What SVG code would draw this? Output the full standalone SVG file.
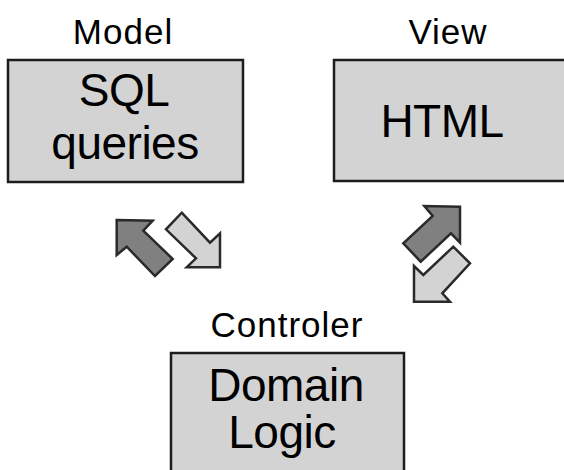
<svg xmlns="http://www.w3.org/2000/svg" width="564" height="470" viewBox="0 0 564 470">
  <style>
    .label { font-family: "Liberation Sans", Arial, sans-serif; font-size: 35px; letter-spacing: 1px; fill: #000; text-anchor: middle; }
    .big { font-family: "Liberation Sans", Arial, sans-serif; font-size: 46px; letter-spacing: -0.5px; fill: #000; text-anchor: middle; }
    .box { fill: #d3d3d3; stroke: #1c1c1c; stroke-width: 2.5; }
    .dark { fill: #808080; stroke: #2a2a2a; stroke-width: 2.5; stroke-linejoin: miter; }
    .light { fill: #d3d3d3; stroke: #2a2a2a; stroke-width: 2.5; stroke-linejoin: miter; }
  </style>
  <rect width="564" height="470" fill="#ffffff"/>

  <g id="model">
    <text class="label" x="123" y="44">Model</text>
    <rect class="box" x="8" y="60" width="235" height="122"/>
    <text class="big" x="124" y="106">SQL</text>
    <text class="big" x="125" y="159">queries</text>
  </g>

  <g id="view">
    <text class="label" x="448" y="44">View</text>
    <rect class="box" x="334" y="60" width="232" height="121"/>
    <text class="big" x="442" y="137">HTML</text>
  </g>

  <g id="controler">
    <text class="label" x="287" y="337">Controler</text>
    <rect class="box" x="171" y="353" width="233" height="130"/>
    <text class="big" x="286" y="401">Domain</text>
    <text class="big" x="282" y="448">Logic</text>
  </g>

  <g id="connectors">
    <!-- controller to model -->
    <polygon class="dark" points="116.7,220 152.7,220.7 143.3,230.7 172.7,259 155,276 126.7,246.7 116.7,255"/>
    <!-- model to controller -->
    <polygon class="light" points="181.7,212.7 210,242.7 220,233.3 220,267.3 186.7,267.3 196,258.3 166,229.3"/>
    <!-- controller to view -->
    <polygon class="dark" points="460,206.7 424.3,206 432.7,216 403.3,243.3 420.7,261.7 451,233.3 460,242.7"/>
    <!-- view to controller -->
    <polygon class="light" points="414,301.7 450,301.7 442.3,293.3 470,263.3 453.3,246.7 423.3,275 414,266"/>
  </g>
</svg>
